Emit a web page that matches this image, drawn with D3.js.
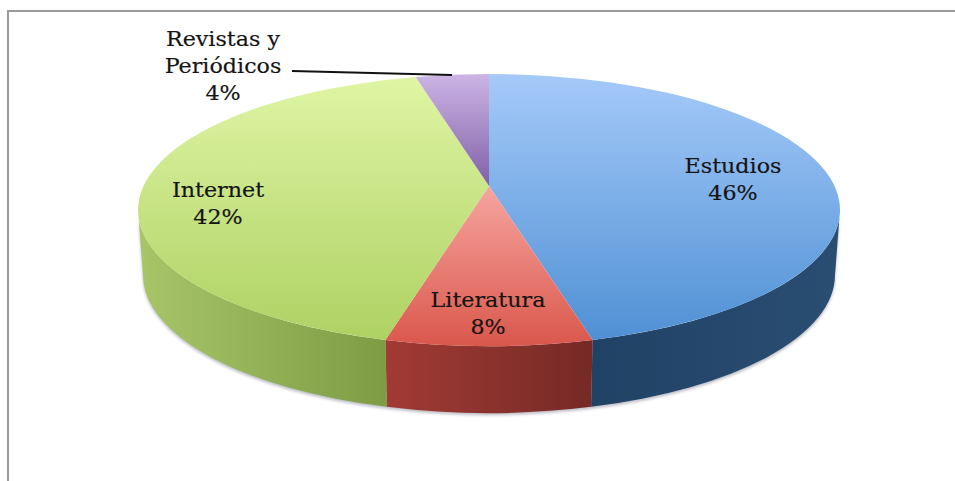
<!DOCTYPE html>
<html><head><meta charset="utf-8">
<script src="https://cdn.jsdelivr.net/npm/d3@7/dist/d3.min.js"></script>
<style>html,body{margin:0;padding:0;background:#fff}svg{display:block}
text{font-family:"DejaVu Serif",serif;font-size:19.5px;fill:#141414;stroke:#141414;stroke-width:.15;text-anchor:middle}</style>
</head><body><div id="c"></div>
<script>
const categories = ["Estudios","Literatura","Internet","Revistas y Periódicos"];
const values = [46,8,42,4];
const labelLines = [["Estudios","46%"],["Literatura","8%"],["Internet","42%"],["Revistas y","Periódicos","4%"]];

const W=955,H=481;
const top3d={cx:489,cy:210,rx:351,ry:136};
const bot3d={cx:489,cy:275,rx:346,ry:138};
const persp=0.176; // perspective tilt that moves the apex up from the ellipse centre
const labelAt=[[733,173],[488,307],[218,197],[223,46]];
const topCols=[["#a5caf9","#4f90d4"],["#f6a5a0","#da574c"],["#dff5a4","#aed163"],["#ccb4e4","#8060a8"]];
const sideCols=[["#1f4265","#2a4d72"],["#a23a35","#752a25"],["#a8c668","#7d9c44"],["#6b528a","#6b528a"]];

const svg=d3.select("#c").append("svg").attr("width",W).attr("height",H);
const defs=svg.append("defs");
const f=defs.append("filter").attr("id","blur").attr("x","-5%").attr("y","-5%").attr("width","110%").attr("height","110%");
f.append("feGaussianBlur").attr("stdDeviation",1.8);

function project(t){
  const u=Math.sin(t),v=Math.cos(t),d=1+persp*v;
  return Math.atan2(u*Math.sqrt(1-persp*persp)/d,(v+persp)/d);
}
const pt=(e,phi)=>[e.cx+e.rx*Math.sin(phi),e.cy-e.ry*Math.cos(phi)];
function ell(e,a,b){
  const [x,y]=pt(e,b);
  const d=b-a;
  return `A${e.rx} ${e.ry} 0 ${Math.abs(d)>Math.PI?1:0} ${d>0?1:0} ${x} ${y}`;
}
const norm=p=>p<0?p+2*Math.PI:p;
const pie=d3.pie().sort(null).value(d=>d)(values);
const sl=pie.map(p=>{
  const a=norm(project(p.startAngle));
  let b=norm(project(p.endAngle)); if(b<=a) b+=2*Math.PI;
  return {a,b,i:p.index};
});
const apex=[top3d.cx,top3d.cy-top3d.ry*persp];
const yTop=top3d.cy-top3d.ry, yBot=top3d.cy+top3d.ry;

sl.forEach(s=>{
  // each slice shades over its own vertical extent
  const hitsTop=s.b>=2*Math.PI||s.a===0, hitsBot=s.a<=Math.PI&&s.b>=Math.PI;
  const ys=[apex[1],pt(top3d,s.a)[1],pt(top3d,s.b)[1]];
  const y1=hitsTop?yTop:d3.min(ys), y2=hitsBot?yBot:d3.max(ys);
  const g=defs.append("linearGradient").attr("id","t"+s.i).attr("gradientUnits","userSpaceOnUse")
    .attr("x1",0).attr("x2",0).attr("y1",y1).attr("y2",y2);
  g.append("stop").attr("offset",0).attr("stop-color",topCols[s.i][0]);
  g.append("stop").attr("offset",1).attr("stop-color",topCols[s.i][1]);
  const a=Math.max(s.a,Math.PI/2),b=Math.min(s.b,1.5*Math.PI);
  s.sa=a;s.sb=b;
  if(b>a){
    const xs=[pt(top3d,a)[0],pt(top3d,b)[0]];
    const h=defs.append("linearGradient").attr("id","s"+s.i).attr("gradientUnits","userSpaceOnUse")
      .attr("x1",Math.min(...xs)).attr("x2",Math.max(...xs)).attr("y1",0).attr("y2",0);
    h.append("stop").attr("offset",0).attr("stop-color",sideCols[s.i][0]);
    h.append("stop").attr("offset",1).attr("stop-color",sideCols[s.i][1]);
  }
});

const frame=d3.path();
frame.moveTo(W,11);frame.lineTo(8,11);frame.lineTo(8,H);
svg.append("path").attr("d",frame.toString()).attr("fill","none").attr("stroke","#9a9a9a").attr("stroke-width",2);

const sideD=s=>{
  const p=pt(top3d,s.sa),q=pt(bot3d,s.sb);
  return `M${p}${ell(top3d,s.sa,s.sb)}L${q}${ell(bot3d,s.sb,s.sa)}Z`;
};
const vis=sl.filter(s=>s.sb>s.sa);
svg.append("g").attr("filter","url(#blur)").attr("opacity",.5).attr("transform","translate(0,2)")
  .selectAll("path").data(vis).join("path").attr("d",sideD).attr("fill","#778");
svg.append("g").selectAll("path").data(vis).join("path").attr("d",sideD)
  .attr("fill",s=>`url(#s${s.i})`);
svg.append("g").selectAll("path").data(sl).join("path")
  .attr("d",s=>`M${apex}L${pt(top3d,s.a)}${ell(top3d,s.a,s.b)}Z`)
  .attr("fill",s=>`url(#t${s.i})`);

const lead=d3.path();
lead.moveTo(292,71);lead.lineTo(452,75);
svg.append("path").attr("d",lead.toString()).attr("fill","none").attr("stroke","#111").attr("stroke-width",2);

const lab=svg.append("g").selectAll("text").data(labelLines).join("text")
  .attr("transform",(d,i)=>`translate(${labelAt[i]}) scale(1.14,1)`).attr("aria-label",(d,i)=>categories[i]);
lab.selectAll("tspan").data(d=>d).join("tspan").attr("x",0).attr("y",(d,i)=>i*27).text(d=>d);
</script></body></html>
